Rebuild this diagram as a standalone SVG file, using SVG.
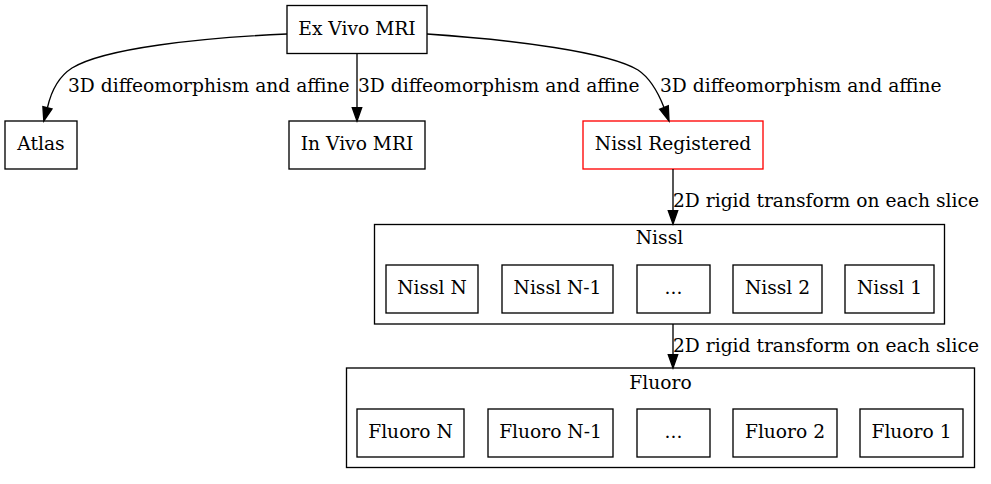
<svg xmlns="http://www.w3.org/2000/svg" width="991" height="484" viewBox="0 0 991 484">
<style>
text{font-family:"DejaVu Serif","Liberation Serif",serif;font-size:18.67px;fill:#000}
.c{text-anchor:middle}
.n{fill:none;stroke:#000;stroke-width:1.33}
.r{fill:none;stroke:#ff0000;stroke-width:1.33}
.e{fill:none;stroke:#000;stroke-width:1.33}
.a{fill:#000;stroke:#000;stroke-width:1.33}
</style>
<rect width="991" height="484" fill="#fff"/>
<g id="cluster_nissl">
<rect class="n" x="374.5" y="224.5" width="570" height="99.5"/>
<text class="c" x="659.5" y="243.5">Nissl</text>
</g>
<g id="cluster_fluoro">
<rect class="n" x="346.5" y="368" width="628" height="99.5"/>
<text class="c" x="660.5" y="388.5">Fluoro</text>
</g>
<g id="exvivo">
<rect class="n" x="287" y="5.5" width="140" height="48"/>
<text class="c" x="357" y="34.5">Ex Vivo MRI</text>
</g>
<g id="atlas">
<rect class="n" x="5" y="121" width="72" height="48"/>
<text class="c" x="41" y="150.3">Atlas</text>
</g>
<g id="invivo">
<rect class="n" x="289" y="121" width="136" height="48"/>
<text class="c" x="357" y="150.3">In Vivo MRI</text>
</g>
<g id="nisslreg">
<rect class="r" x="583" y="121" width="180" height="48"/>
<text class="c" x="673" y="150.3">Nissl Registered</text>
</g>
<g id="nisslN">
<rect class="n" x="386" y="265" width="92" height="48"/>
<text class="c" x="432" y="294.3">Nissl N</text>
</g>
<g id="nisslN1">
<rect class="n" x="502" y="265" width="111" height="48"/>
<text class="c" x="557.5" y="294.3">Nissl N-1</text>
</g>
<g id="nisslDots">
<rect class="n" x="637" y="265" width="73" height="48"/>
<text class="c" x="673.5" y="294.3">...</text>
</g>
<g id="nissl2">
<rect class="n" x="733" y="265" width="89" height="48"/>
<text class="c" x="777.5" y="294.3">Nissl 2</text>
</g>
<g id="nissl1">
<rect class="n" x="845" y="265" width="89" height="48"/>
<text class="c" x="889.5" y="294.3">Nissl 1</text>
</g>
<g id="fluoroN">
<rect class="n" x="357" y="409" width="107" height="48"/>
<text class="c" x="410.5" y="438.3">Fluoro N</text>
</g>
<g id="fluoroN1">
<rect class="n" x="488" y="409" width="125" height="48"/>
<text class="c" x="550.5" y="438.3">Fluoro N-1</text>
</g>
<g id="fluoroDots">
<rect class="n" x="637" y="409" width="73" height="48"/>
<text class="c" x="673.5" y="438.3">...</text>
</g>
<g id="fluoro2">
<rect class="n" x="733" y="409" width="104" height="48"/>
<text class="c" x="785" y="438.3">Fluoro 2</text>
</g>
<g id="fluoro1">
<rect class="n" x="860" y="409" width="103" height="48"/>
<text class="c" x="911.5" y="438.3">Fluoro 1</text>
</g>
<g id="connectors">
<path class="e" d="M287,34 C200,38 105,48 72,68 C58,77 51,92 47.5,107.5"/>
<polygon class="a" points="42.9,106.6 43.8,121 52,109"/>
<text x="68" y="92">3D diffeomorphism and affine</text>
<path class="e" d="M357,53.5 L357,107.7"/>
<polygon class="a" points="352.3,107.7 357,121 361.7,107.7"/>
<text x="358" y="92">3D diffeomorphism and affine</text>
<path class="e" d="M427,34 C515,40 608,52 638,70 C650,78 658,92 664,107.5"/>
<polygon class="a" points="659.6,109.2 669,121 668.3,105.8"/>
<text x="660" y="92">3D diffeomorphism and affine</text>
<path class="e" d="M673,169 L673,210.7"/>
<polygon class="a" points="668.3,210.7 673,224 677.7,210.7"/>
<text x="673" y="207">2D rigid transform on each slice</text>
<path class="e" d="M673,324 L673,354.7"/>
<polygon class="a" points="668.3,354.7 673,368 677.7,354.7"/>
<text x="673" y="351.7">2D rigid transform on each slice</text>
</g>
</svg>
